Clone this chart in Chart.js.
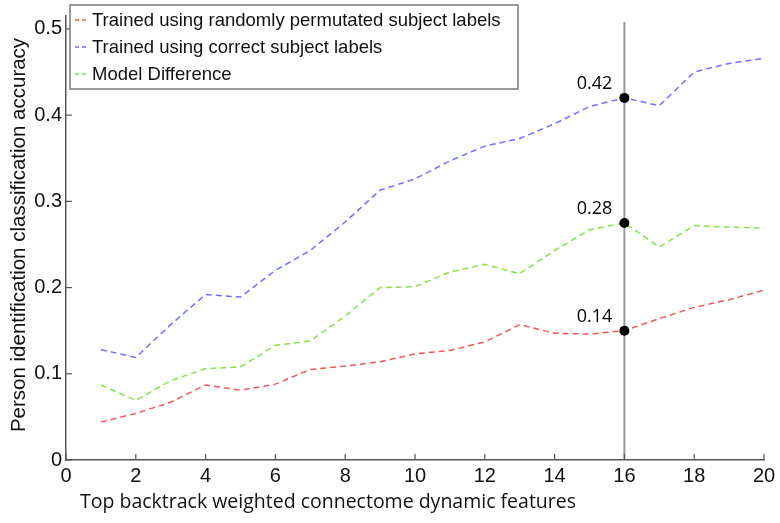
<!DOCTYPE html>
<html>
<head>
<meta charset="utf-8">
<script src="https://cdn.jsdelivr.net/npm/chart.js@4.4.0/dist/chart.umd.min.js"></script>
<style>
  html, body { margin: 0; padding: 0; background: #fff; }
  #wrap { width: 780px; height: 523px; }
</style>
</head>
<body>
<div id="wrap"><canvas id="accChart" width="780" height="523"></canvas></div>
<script>
// data
const featureCounts = [1,2,3,4,5,6,7,8,9,10,11,12,13,14,15,16,17,18,19,20];
const permutedAcc = [0.044,0.054,0.067,0.087,0.081,0.088,0.105,0.109,0.114,0.123,0.127,0.137,0.157,0.147,0.146,0.150,0.164,0.177,0.186,0.197];
const correctAcc  = [0.128,0.119,0.157,0.192,0.189,0.220,0.243,0.276,0.313,0.326,0.347,0.364,0.373,0.390,0.410,0.420,0.411,0.450,0.460,0.466];
const diffAcc     = [0.087,0.069,0.092,0.106,0.108,0.133,0.138,0.167,0.200,0.201,0.218,0.227,0.216,0.243,0.267,0.275,0.247,0.272,0.270,0.269];

const seriesLabels = [
  "Trained using randomly permutated subject labels",
  "Trained using correct subject labels",
  "Model Difference"
];
const seriesColors = ["#ee5a5a", "#7070ff", "#86e34a"];

const xTicks = [0,2,4,6,8,10,12,14,16,18,20];
const yTicks = [0,0.1,0.2,0.3,0.4,0.5];

// marker at x = 16
const markX = 16;
const markValues = [0.420, 0.275, 0.150];
const markLabels = ["0.42", "0.28", "0.14"];

const xTitle = "Top backtrack weighted connectome dynamic features";
const yTitle = "Person identification classification accuracy";

function toPoints(arr) {
    return arr.map((v, i) => ({ x: featureCounts[i], y: v }));
}

const axisColor = "#555";
const tickFont = "'Liberation Sans', Arial, sans-serif";

let extras = {
    id: "extras",
    afterDatasetsDraw(chart) {
        let ctx = chart.ctx;
        let xs = chart.scales.x, ys = chart.scales.y;
        let area = chart.chartArea;

        // vertical marker line
        ctx.save();
        ctx.strokeStyle = "#9a9a9a";
        ctx.lineWidth = 2;
        ctx.beginPath();
        let mx = xs.getPixelForValue(markX);
        ctx.moveTo(mx, ys.getPixelForValue(0.508));
        ctx.lineTo(mx, area.bottom);
        ctx.stroke();

        // dots + value labels
        ctx.fillStyle = "#000";
        markValues.forEach((v, i) => {
            let py = ys.getPixelForValue(v);
            ctx.beginPath();
            ctx.arc(mx, py, 5, 0, Math.PI * 2);
            ctx.fill();
            ctx.font = "18px 'Open Sans', sans-serif";
            ctx.textAlign = "right";
            ctx.textBaseline = "alphabetic";
            ctx.fillText(markLabels[i], mx - 12, py - 9);
        });

        // inward tick marks
        ctx.strokeStyle = axisColor;
        ctx.lineWidth = 1.2;
        xTicks.forEach(t => {
            let px = xs.getPixelForValue(t);
            ctx.beginPath();
            ctx.moveTo(px, area.bottom);
            ctx.lineTo(px, area.bottom - 6);
            ctx.stroke();
        });
        yTicks.forEach(t => {
            let py = ys.getPixelForValue(t);
            ctx.beginPath();
            ctx.moveTo(area.left, py);
            ctx.lineTo(area.left + 6, py);
            ctx.stroke();
        });

        // legend box
        let lx = 70, ly = 5, lw = 448, lh = 84;
        ctx.fillStyle = "#fff";
        ctx.fillRect(lx, ly, lw, lh);
        ctx.strokeStyle = "#7a7a7a";
        ctx.lineWidth = 1.5;
        ctx.strokeRect(lx, ly, lw, lh);
        ctx.font = "18.5px " + tickFont;
        ctx.textAlign = "left";
        ctx.textBaseline = "middle";
        for (let i = 0; i < 3; i++) {
            let yy = ly + 15 + i * 27;
            ctx.strokeStyle = seriesColors[i];
            ctx.lineWidth = 1.3;
            ctx.setLineDash([4, 3]);
            ctx.beginPath();
            ctx.moveTo(lx + 5, yy);
            ctx.lineTo(lx + 19, yy);
            ctx.stroke();
            ctx.setLineDash([]);
            ctx.fillStyle = "#111";
            ctx.fillText(seriesLabels[i], lx + 22, yy + 1);
        }

        // x title
        ctx.font = "19.5px 'Open Sans', sans-serif";
        ctx.fillStyle = "#111";
        ctx.textAlign = "left";
        ctx.textBaseline = "middle";
        ctx.fillText(xTitle, 80, 502);

        // y title
        ctx.translate(19, 235);
        ctx.rotate(-Math.PI / 2);
        ctx.font = "20.5px " + tickFont;
        ctx.textAlign = "center";
        ctx.fillText(yTitle, 0, 0);
        ctx.restore();
    }
};

let ctx1 = document.getElementById("accChart").getContext("2d");

new Chart(ctx1, {
    type: "line",
    data: {
        datasets: [
            { label: seriesLabels[0], data: toPoints(permutedAcc), borderColor: seriesColors[0] },
            { label: seriesLabels[1], data: toPoints(correctAcc), borderColor: seriesColors[1] },
            { label: seriesLabels[2], data: toPoints(diffAcc), borderColor: seriesColors[2] }
        ].map(d => Object.assign(d, {
            borderWidth: 1.5,
            borderDash: [6, 4],
            pointRadius: 0,
            tension: 0,
            fill: false
        }))
    },
    options: {
        responsive: false,
        animation: false,
        layout: { padding: { left: 0, right: 16, top: 5, bottom: 0 } },
        plugins: {
            legend: { display: false },
            tooltip: { enabled: false }
        },
        scales: {
            x: {
                type: "linear",
                min: 0,
                max: 20,
                afterBuildTicks: s => { s.ticks = xTicks.map(v => ({ value: v })); },
                afterFit: s => { s.height = 63; },
                grid: { display: true, drawOnChartArea: false, drawTicks: false },
                border: { display: true, color: axisColor, width: 1.5 },
                ticks: {
                    padding: 4,
                    color: "#111",
                    font: { family: tickFont, size: 20 },
                    callback: v => String(v)
                }
            },
            y: {
                min: 0,
                max: 0.515,
                afterBuildTicks: s => { s.ticks = yTicks.map(v => ({ value: v })); },
                afterFit: s => { s.width = 66; },
                grid: { display: true, drawOnChartArea: false, drawTicks: false },
                border: { display: true, color: axisColor, width: 1.5 },
                ticks: {
                    padding: 4,
                    color: "#111",
                    font: { family: tickFont, size: 20 },
                    callback: v => v === 0 ? "0" : v.toFixed(1)
                }
            }
        }
    },
    plugins: [extras]
});
</script>
</body>
</html>
